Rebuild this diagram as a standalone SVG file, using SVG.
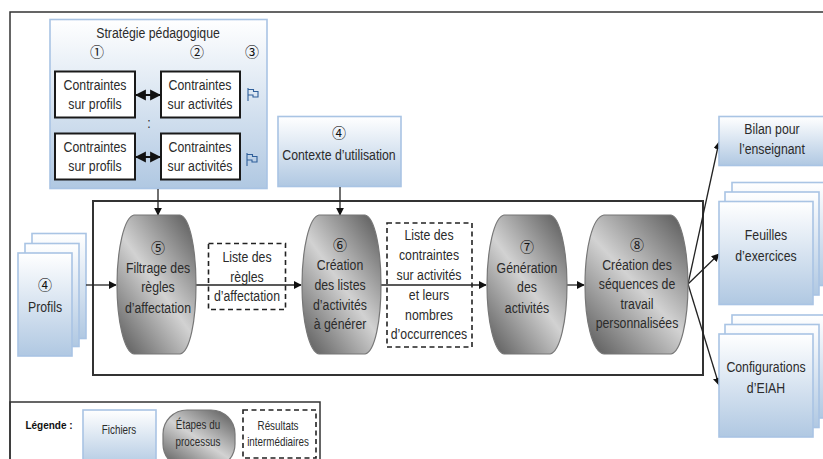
<svg xmlns="http://www.w3.org/2000/svg" width="823" height="459" viewBox="0 0 823 459">
<style>
text{font-family:"Liberation Sans",Arial,sans-serif;font-size:15px;fill:#2b2b2b;text-anchor:middle;transform-box:fill-box;transform-origin:center;transform:scaleX(.82)}
.n{font-family:"Noto Sans CJK JP","DejaVu Sans",sans-serif;font-size:14px;fill:#111;transform:none}
.l{font-size:12px}
.lt{font-size:10px;font-weight:bold;fill:#111;transform:none}
.file{fill:url(#fg);stroke:#a9c4e4;stroke-width:1.6}
.step{fill:url(#sg);stroke:#777;stroke-width:1.2}
.res{fill:none;stroke:#222;stroke-width:1.6;stroke-dasharray:5 3.500}
.box{fill:#fff;stroke:#1a1a1a;stroke-width:2}
.frame{fill:none;stroke:#333;stroke-width:1.500}
.c{fill:none;stroke:#222;stroke-width:1.300}
.h{fill:none;stroke:#111;stroke-width:2}
.flag{fill:none;stroke:#2f5f9a;stroke-width:1.100}
</style>
<defs>
<linearGradient id="fg" x1="0" y1="0" x2="0" y2="1"><stop offset="0" stop-color="#fff"/><stop offset="1" stop-color="#b0c8e2"/></linearGradient>
<linearGradient id="sg" x1=".9" y1="0" x2=".1" y2="1"><stop offset="0" stop-color="#5f5f5f"/><stop offset=".5" stop-color="#d2d2d2"/><stop offset="1" stop-color="#5f5f5f"/></linearGradient>
<marker id="a" viewBox="0 0 10 10" refX="9" refY="5" markerWidth="8" markerHeight="8" markerUnits="userSpaceOnUse" orient="auto"><path d="M0 0L10 5L0 10Z" fill="#111"/></marker>
<marker id="b" viewBox="0 0 10 10" refX="9" refY="5" markerWidth="11" markerHeight="12" markerUnits="userSpaceOnUse" orient="auto-start-reverse"><path d="M0 0L10 5L0 10Z" fill="#111"/></marker>
<path id="fl" d="M0 0V13M0 1.500H5.500V3.500H10V9H5V7H0"/>
</defs>
<rect class="frame" x="10" y="12" width="830" height="470"/>
<g id="strategie">
<rect class="file" x="50" y="19.500" width="217" height="169"/>
<text x="158" y="38">Stratégie pédagogique</text>
<text class="n" x="97" y="57">①</text><text class="n" x="197" y="57">②</text><text class="n" x="252" y="57">③</text>
<rect class="box" x="55" y="71.500" width="80" height="46"/>
<text x="95" y="90">Contraintes</text><text x="95" y="109">sur profils</text>
<rect class="box" x="161" y="71.500" width="79" height="46"/>
<text x="200" y="90">Contraintes</text><text x="200" y="109">sur activités</text>
<rect class="box" x="55" y="133.500" width="80" height="46"/>
<text x="95" y="152">Contraintes</text><text x="95" y="171">sur profils</text>
<rect class="box" x="161" y="133.500" width="79" height="46"/>
<text x="200" y="152">Contraintes</text><text x="200" y="171">sur activités</text>
<text x="149" y="128">:</text>
<use href="#fl" class="flag" x="248" y="88"/><use href="#fl" class="flag" x="247" y="153"/>
</g>
<g id="contexte">
<rect class="file" x="278" y="116.500" width="123" height="70"/>
<text class="n" x="339" y="138">④</text><text x="339" y="160">Contexte d’utilisation</text>
</g>
<rect id="processus" class="frame" x="93" y="201" width="610" height="174" style="stroke-width:2"/>
<g id="profils">
<rect class="file" x="32" y="233.500" width="54" height="105"/>
<rect class="file" x="25" y="243.500" width="54" height="103"/>
<rect class="file" x="18" y="253" width="54" height="103"/>
<text class="n" x="45" y="290">④</text><text x="45" y="312">Profils</text>
</g>
<g id="connecteurs">
<path class="h" d="M136 95H160" marker-start="url(#b)" marker-end="url(#b)"/>
<path class="h" d="M136 157H160" marker-start="url(#b)" marker-end="url(#b)"/>
<path class="c" d="M158 189V215" marker-end="url(#a)"/>
<path class="c" d="M340 187V215" marker-end="url(#a)"/>
<path class="c" d="M86 285H116" marker-end="url(#a)"/>
<path class="c" d="M196 285H301" marker-end="url(#a)"/>
<path class="c" d="M380 285H486" marker-end="url(#a)"/>
<path class="c" d="M567 285H584" marker-end="url(#a)"/>
<path class="c" d="M688 284L719 142" marker-end="url(#a)"/>
<path class="c" d="M688 284L719 254" marker-end="url(#a)"/>
<path class="c" d="M688 284L719 385" marker-end="url(#a)"/>
</g>
<g id="etape5">
<path class="step" d="M134 215H180C190 217 196 250 196 285S190 352 180 354H134C124 352 117 320 117 285S124 217 134 215Z"/>
<text class="n" x="158" y="253">⑤</text><text x="158" y="273">Filtrage des</text><text x="158" y="292">règles</text><text x="158" y="313">d’affectation</text>
</g>
<g id="liste1">
<rect class="res" x="208.500" y="243.500" width="77" height="66"/>
<text x="247" y="262">Liste des</text><text x="247" y="282">règles</text><text x="247" y="301">d’affectation</text>
</g>
<g id="etape6">
<path class="step" d="M319 215H365C375 217 381 250 381 285S375 352 365 354H319C309 352 302 320 302 285S309 217 319 215Z"/>
<text class="n" x="340" y="250">⑥</text><text x="340" y="270">Création</text><text x="340" y="290">des listes</text><text x="340" y="310">d’activités</text><text x="340" y="329">à générer</text>
</g>
<g id="liste2">
<rect class="res" x="387" y="223" width="85" height="124"/>
<text x="429" y="240">Liste des</text><text x="429" y="260">contraintes</text><text x="429" y="280">sur activités</text><text x="429" y="300">et leurs</text><text x="429" y="320">nombres</text><text x="429" y="339">d’occurrences</text>
</g>
<g id="etape7">
<path class="step" d="M504 215H550C560 217 567 250 567 285S560 352 550 354H504C494 352 487 320 487 285S494 217 504 215Z"/>
<text class="n" x="527" y="252">⑦</text><text x="527" y="273">Génération</text><text x="527" y="292">des</text><text x="527" y="313">activités</text>
</g>
<g id="etape8">
<path class="step" d="M604 215H671C681 217 688 250 688 285S681 352 671 354H604C592 352 585 320 585 285S592 217 604 215Z"/>
<text class="n" x="637" y="250">⑧</text><text x="637" y="270">Création des</text><text x="637" y="289">séquences de</text><text x="637" y="309">travail</text><text x="637" y="328">personnalisées</text>
</g>
<g id="bilan">
<rect class="file" x="719" y="116.500" width="110" height="49"/>
<text x="772" y="134">Bilan pour</text><text x="772" y="154">l’enseignant</text>
</g>
<g id="feuilles">
<rect class="file" x="732" y="182.500" width="110" height="103"/>
<rect class="file" x="725" y="192" width="94" height="103"/>
<rect class="file" x="719" y="201.500" width="94" height="103"/>
<text x="766" y="240">Feuilles</text><text x="766" y="261">d’exercices</text>
</g>
<g id="configurations">
<rect class="file" x="732" y="315" width="110" height="103"/>
<rect class="file" x="725" y="324.500" width="94" height="103"/>
<rect class="file" x="719" y="334" width="94" height="103"/>
<text x="766" y="372">Configurations</text><text x="766" y="393">d’EIAH</text>
</g>
<g id="legende">
<rect class="frame" x="10" y="402" width="310" height="70"/>
<text class="lt" x="49" y="429">Légende :</text>
<rect class="file" x="83" y="410" width="73" height="58"/>
<text class="l" x="119" y="434">Fichiers</text>
<rect class="step" x="163" y="410" width="72" height="58" rx="24"/>
<text class="l" x="198" y="429">Étapes du</text><text class="l" x="198" y="446">processus</text>
<rect class="res" x="243" y="410" width="73" height="48"/>
<text class="l" x="278" y="430">Résultats</text><text class="l" x="278" y="446">intermédiaires</text>
</g>
</svg>
